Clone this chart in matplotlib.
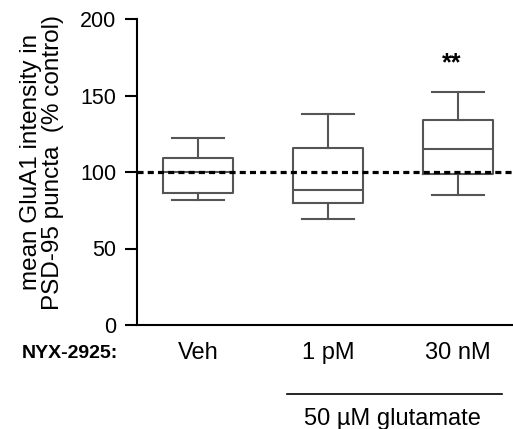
import matplotlib.pyplot as plt

plt.rcParams['font.family'] = ['Liberation Sans', 'DejaVu Sans']

groups = ['Veh', '1 pM', '30 nM']
whisker_low = [82, 69, 85]
q1 = [86, 80, 99]
median = [100, 88, 115]
q3 = [109, 116, 134]
whisker_high = [122, 138, 152]
sig_label = ['', '', '**']
sig_y = 171

stats = []
for i, g in enumerate(groups):
    stats.append(dict(label=g, whislo=whisker_low[i], q1=q1[i], med=median[i],
                      q3=q3[i], whishi=whisker_high[i], fliers=[]))

fig = plt.figure(figsize=(5.13, 4.29), dpi=100)
ax = fig.add_axes([137 / 513, 1 - 325 / 429, (513 - 137) / 513, (325 - 19) / 429])

gray = '#555555'
pos = [1, 2, 3]
ax.bxp(stats, positions=pos, widths=0.54, showfliers=False,
       boxprops=dict(color=gray, linewidth=1.5),
       medianprops=dict(color=gray, linewidth=1.5),
       whiskerprops=dict(color=gray, linewidth=1.5),
       capprops=dict(color=gray, linewidth=1.5),
       capwidths=0.4)

# reference level (100 % of control)
ax.axhline(100, color='black', linestyle=(0, (1.9, 1.3)), linewidth=2.3, zorder=5)

for p, s in zip(pos, sig_label):
    if s:
        ax.text(p - 0.05, sig_y, s, ha='center', va='center', fontsize=18,
                fontweight='bold')

ax.set_xlim(0.53, 3.42)
ax.set_ylim(0, 200)
ax.set_yticks([0, 50, 100, 150, 200])
ax.tick_params(axis='y', direction='out', length=9, width=1.5, labelsize=15.5, pad=6)
ax.tick_params(axis='x', length=0, labelsize=17, pad=12)
ax.set_xticks(pos)
ax.set_xticklabels(groups)
for side in ['top', 'right']:
    ax.spines[side].set_visible(False)
for side in ['left', 'bottom']:
    ax.spines[side].set_linewidth(1.5)

ax.set_ylabel('mean GluA1 intensity in\nPSD-95 puncta  (% control)', fontsize=17.5,
              linespacing=1.0)
ax.yaxis.set_label_coords((64 - 137) / 376, (325 - 162) / 306)

fig.text(70 / 513, 1 - 353 / 429, 'NYX-2925:', ha='center', va='center',
         fontsize=14, fontweight='bold')
fig.add_artist(plt.Line2D([287 / 513, 502 / 513], [1 - 394 / 429, 1 - 394 / 429],
                          color='black', linewidth=1.2))
fig.text(392 / 513, 1 - 419 / 429, '50 µM glutamate', ha='center', va='center',
         fontsize=17)

fig.savefig('out.png', dpi=100)
